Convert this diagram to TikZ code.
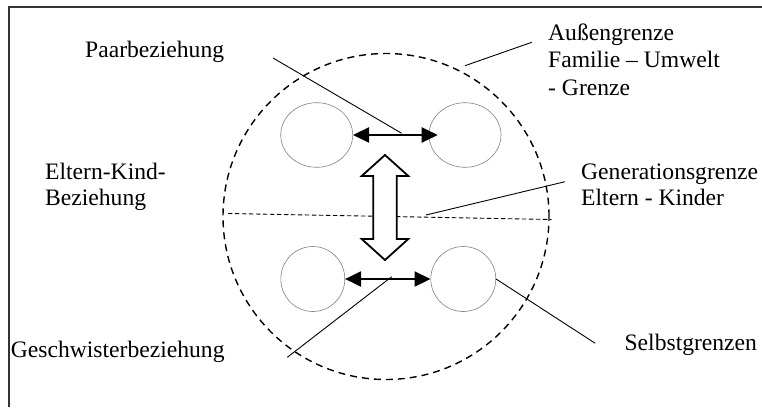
\documentclass[tikz,border=0pt]{standalone}
\usepackage{fontspec}
\setmainfont{Liberation Serif}
\usetikzlibrary{arrows.meta,shapes.geometric}
\begin{document}
\begin{tikzpicture}[x=1pt,y=-1pt,
  lbl/.style={anchor=base west, inner sep=0pt, font=\fontsize{23.6}{26.5}\selectfont},
  member/.style={ellipse, draw=black!50, line width=0.6pt, inner sep=0pt},
  relation/.style={line width=2.2pt, {Triangle[length=16pt,width=15pt]}-{Triangle[length=16pt,width=15pt]}},
  leader/.style={draw=black, line width=0.9pt},
  frame/.style={draw=black!80, line width=1.3pt}
]
\useasboundingbox (0,0) rectangle (762,407);

% open frame: left and top edges
\draw[frame] (9,407) -- (9,7) -- (762,7);

% family boundary
\node[circle, draw, dashed, dash pattern=on 7pt off 5pt, line width=1.4pt,
      minimum size=326pt, inner sep=0pt] (fam) at (386,216.5) {};

% generation boundary
\coordinate (genL) at (228,213.5);
\coordinate (genR) at (551.5,219.5);
\draw[dash pattern=on 4.3pt off 2.7pt, line width=0.9pt] (genL) -- (genR);

% parents and children
\node[member, minimum width=72pt, minimum height=64.6pt] (p1) at (316.7,135) {};
\node[member, minimum width=72pt, minimum height=64.6pt] (p2) at (465,135) {};
\node[member, minimum width=64pt, minimum height=65pt] (c1) at (312.8,279) {};
\node[member, minimum width=65pt, minimum height=65pt] (c2) at (463.3,279) {};

% couple and sibling relations
\draw[relation] (p1.east) -- ([xshift=9pt]p2.west);
\draw[relation] (c1.east) -- (c2.west);

% parent-child relation: hollow double arrow
\draw[line width=1.8pt, fill=white, line join=miter]
  (385,155) -- (408.3,176) -- (396.7,176) -- (396.7,239) -- (408.3,239)
  -- (385,260) -- (361.7,239) -- (373.3,239) -- (373.3,176) -- (361.7,176) -- cycle;

% labels
\node[lbl] (paar) at (85,57) {Paarbeziehung};
\node[lbl] (aus1) at (548,40.5) {Außengrenze};
\node[lbl] (aus2) at (548,67.8) {Familie – Umwelt};
\node[lbl] (aus3) at (548,95) {- Grenze};
\node[lbl] (ek1) at (45,179.3) {Eltern-Kind-};
\node[lbl] (ek2) at (45,205) {Beziehung};
\node[lbl] (gen1) at (581,179.3) {Generationsgrenze};
\node[lbl] (gen2) at (581,205) {Eltern - Kinder};
\node[lbl] (gesch) at (10.7,357) {Geschwisterbeziehung};
\node[lbl] (selbst) at (624.4,350) {Selbstgrenzen};

% leader lines
\coordinate (paarA) at (273,58);
\coordinate (paarB) at (401.7,133.3);
\draw[leader] (paarA) -- (paarB);
\coordinate (ausA) at (465,65.7);
\coordinate (ausB) at (531.7,42.3);
\draw[leader] (ausA) -- (ausB);
\coordinate (genA) at (426,215);
\coordinate (genB) at (565,181.7);
\draw[leader] (genA) -- (genB);
\coordinate (geschA) at (287.3,357.3);
\coordinate (geschB) at (391.7,276.7);
\draw[leader] (geschA) -- (geschB);
\coordinate (selbstB) at (595.2,343.3);
\draw[leader] (c2.east) -- (selbstB);
\end{tikzpicture}
\end{document}
